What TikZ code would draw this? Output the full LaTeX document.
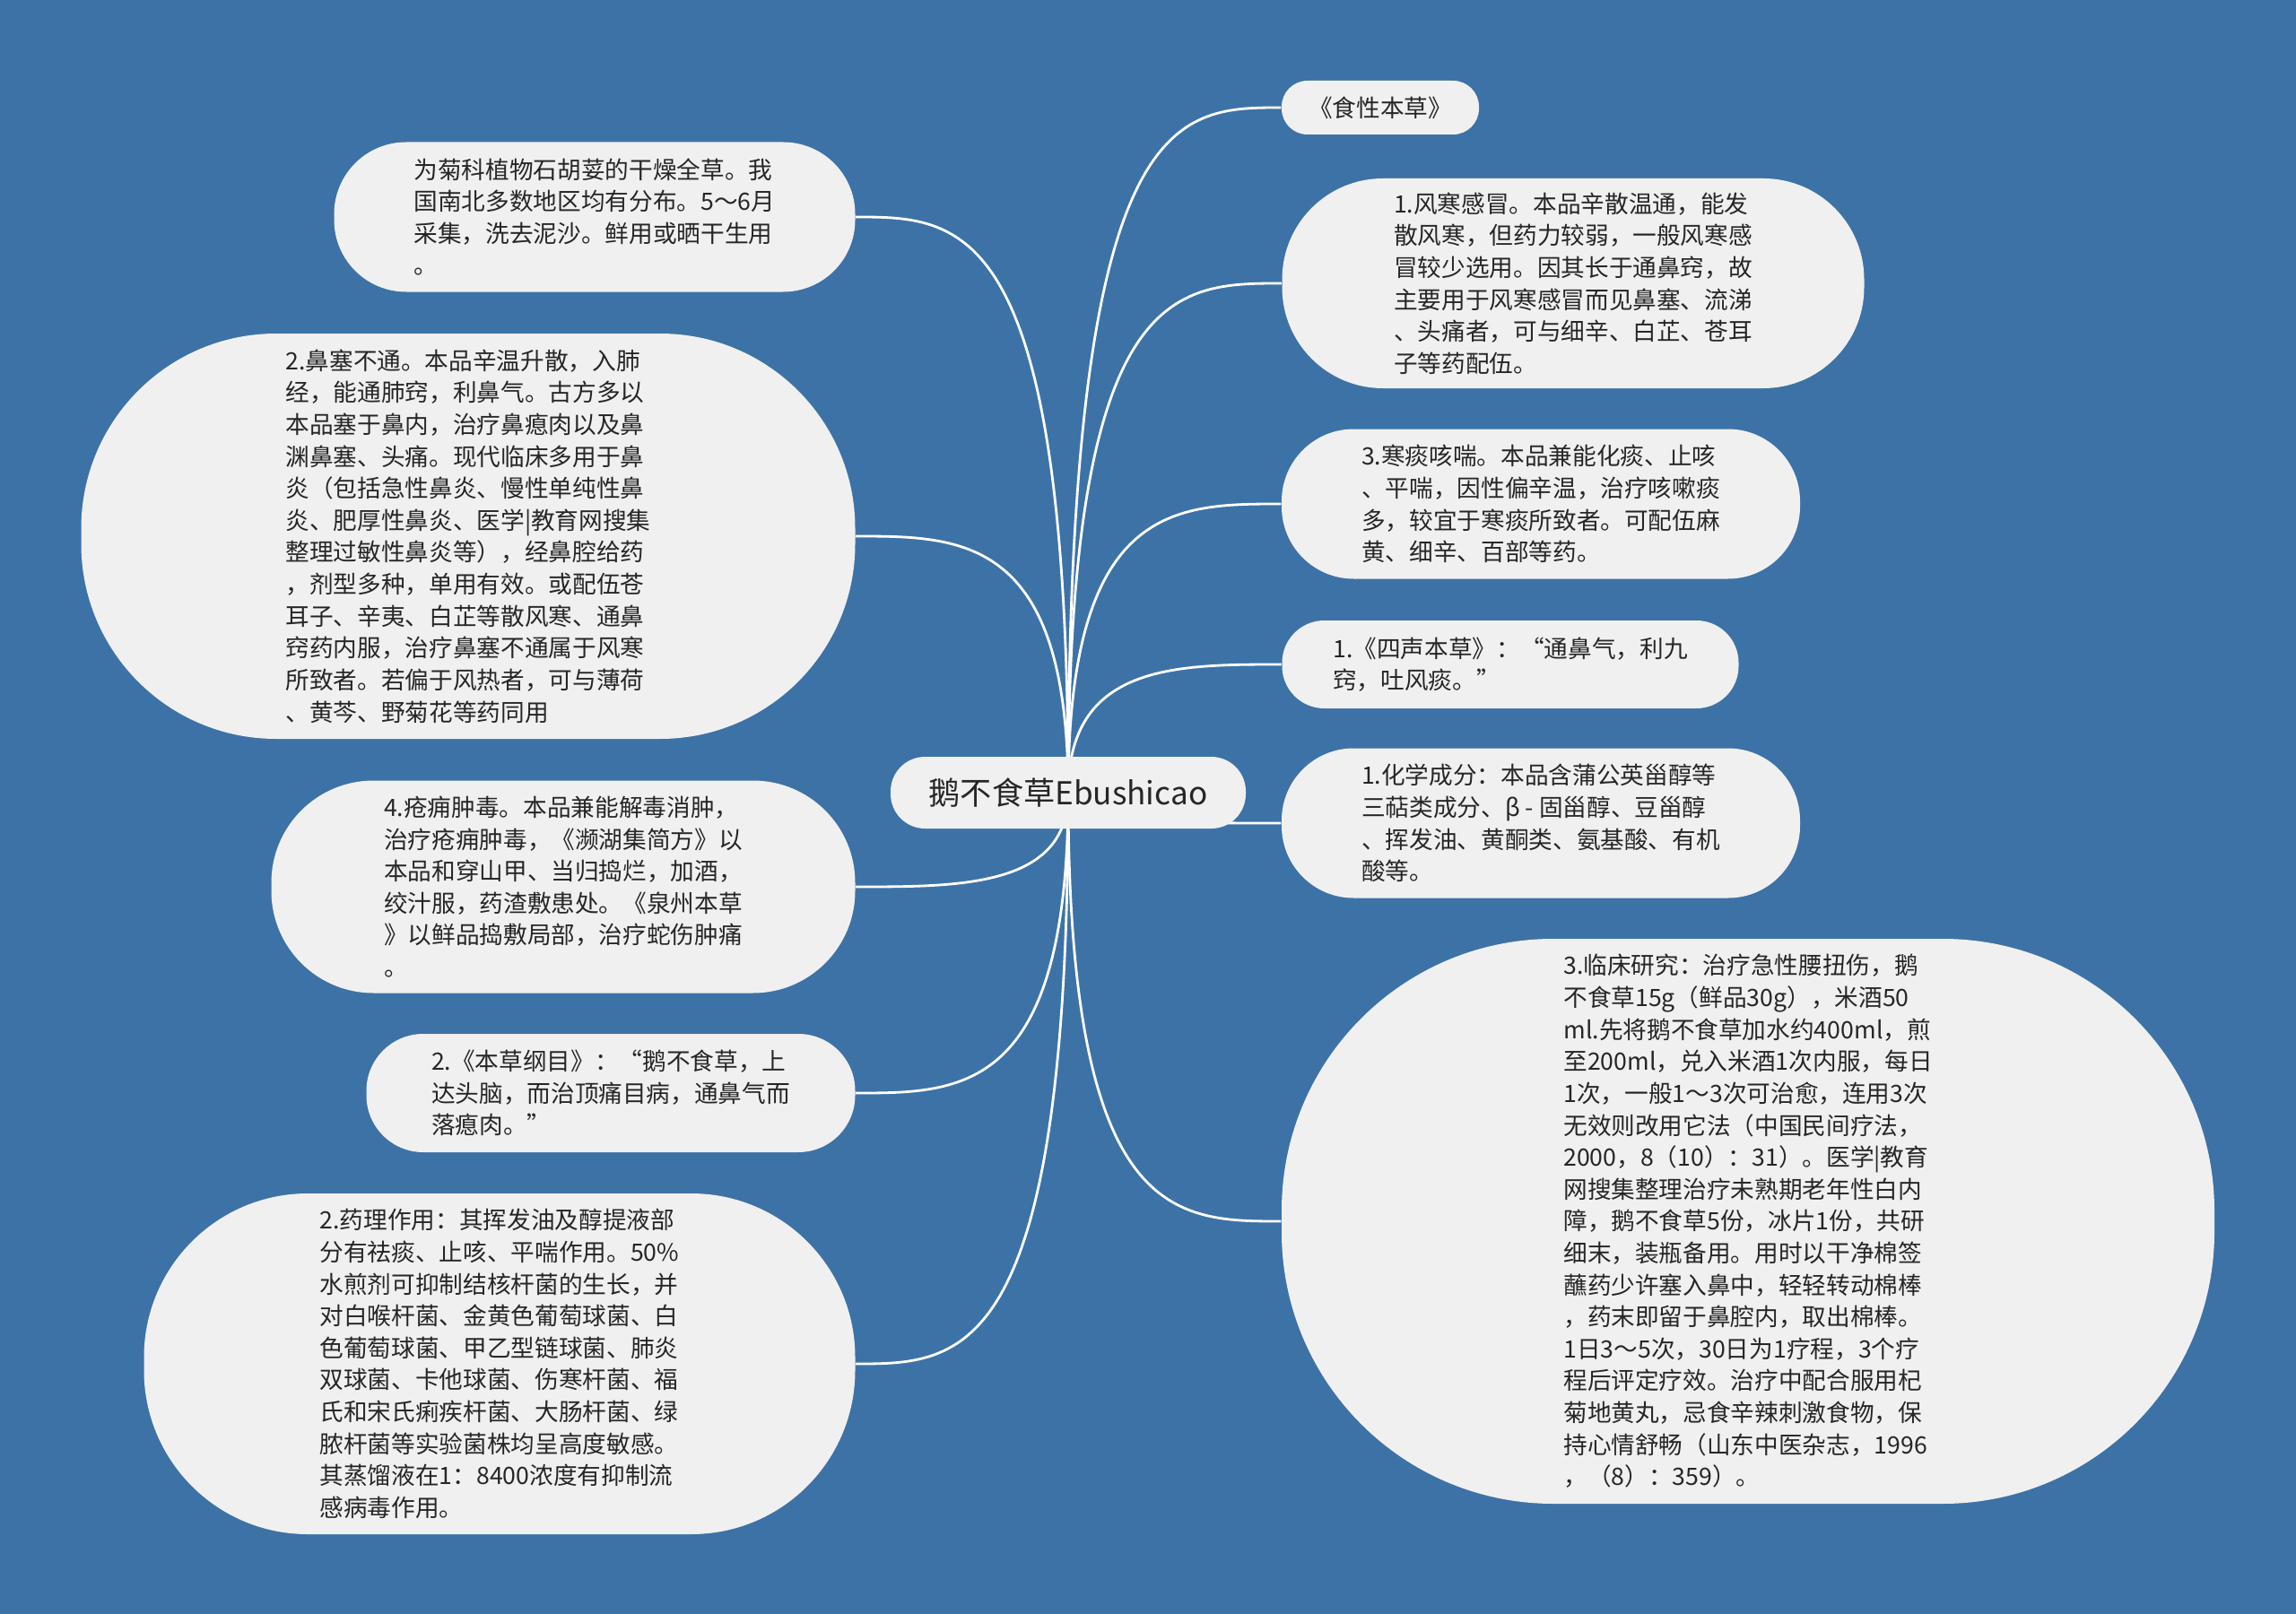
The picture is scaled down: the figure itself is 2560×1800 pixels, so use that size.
\documentclass[tikz,border=0pt]{standalone}
\usepackage{fontspec}
\setmainfont{Noto Sans CJK SC}
\usetikzlibrary{calc}
\definecolor{mapblue}{HTML}{3D72A6}
\definecolor{leafgray}{HTML}{F0F0F0}
\definecolor{inkgray}{HTML}{262626}
\pgfdeclarelayer{back}
\pgfdeclarelayer{links}
\pgfsetlayers{back,links,main}
\begin{document}
\begin{tikzpicture}[x=0.01cm, y=-0.01cm,
    every node/.style={text=inkgray, font=\fontsize{7.58pt}{10.13pt}\selectfont},
    leaf/.style 2 args={fill=leafgray, align=left, inner sep=0pt,
      minimum width=#1*0.01cm, minimum height=#2*0.01cm, rounded corners=#2*0.0048cm},
    branch/.style={draw=white, line width=0.8pt,
      to path={.. controls (\tikztostart |- \tikztotarget) and ($(\tikztostart |- \tikztotarget)!0.5!(\tikztotarget)$) .. (\tikztotarget)}}]
  \useasboundingbox (0,0) rectangle (2560,1800);
  \begin{pgfonlayer}{back}
    \fill[mapblue] (0,0) rectangle (2560,1800);
  \end{pgfonlayer}

  \node[leaf={396}{80}, font=\fontsize{10pt}{12pt}\selectfont] (root) at (1191,884) {鹅不食草Ebushicao};

  \node[leaf={581}{167}] (origin) at (663,242)
    {为菊科植物石胡荽的干燥全草。我\\国南北多数地区均有分布。5～6月\\采集，洗去泥沙。鲜用或晒干生用\\。};
  \node[leaf={863}{452}] (nose) at (522,598)
    {2.鼻塞不通。本品辛温升散，入肺\\经，能通肺窍，利鼻气。古方多以\\本品塞于鼻内，治疗鼻瘜肉以及鼻\\渊鼻塞、头痛。现代临床多用于鼻\\炎（包括急性鼻炎、慢性单纯性鼻\\炎、肥厚性鼻炎、医学|教育网搜集\\整理过敏性鼻炎等），经鼻腔给药\\，剂型多种，单用有效。或配伍苍\\耳子、辛夷、白芷等散风寒、通鼻\\窍药内服，治疗鼻塞不通属于风寒\\所致者。若偏于风热者，可与薄荷\\、黄芩、野菊花等药同用};
  \node[leaf={651}{237}] (sores) at (628,989)
    {4.疮痈肿毒。本品兼能解毒消肿，\\治疗疮痈肿毒，《濒湖集简方》以\\本品和穿山甲、当归捣烂，加酒，\\绞汁服，药渣敷患处。《泉州本草\\》以鲜品捣敷局部，治疗蛇伤肿痛\\。};
  \node[leaf={545}{132}] (gangmu) at (681,1219)
    {2.《本草纲目》：“鹅不食草，上\\达头脑，而治顶痛目病，通鼻气而\\落瘜肉。”};
  \node[leaf={793}{380}] (pharma) at (557,1521)
    {2.药理作用：其挥发油及醇提液部\\分有祛痰、止咳、平喘作用。50\%\\水煎剂可抑制结核杆菌的生长，并\\对白喉杆菌、金黄色葡萄球菌、白\\色葡萄球菌、甲乙型链球菌、肺炎\\双球菌、卡他球菌、伤寒杆菌、福\\氏和宋氏痢疾杆菌、大肠杆菌、绿\\脓杆菌等实验菌株均呈高度敏感。\\其蒸馏液在1：8400浓度有抑制流\\感病毒作用。};

  \node[leaf={220}{60}] (shixing) at (1539,120) {《食性本草》};
  \node[leaf={649}{234}] (cold) at (1754,316)
    {1.风寒感冒。本品辛散温通，能发\\散风寒，但药力较弱，一般风寒感\\冒较少选用。因其长于通鼻窍，故\\主要用于风寒感冒而见鼻塞、流涕\\、头痛者，可与细辛、白芷、苍耳\\子等药配伍。};
  \node[leaf={578}{167}] (cough) at (1718,562)
    {3.寒痰咳喘。本品兼能化痰、止咳\\、平喘，因性偏辛温，治疗咳嗽痰\\多，较宜于寒痰所致者。可配伍麻\\黄、细辛、百部等药。};
  \node[leaf={509}{98}] (sisheng) at (1684,741)
    {1.《四声本草》：“通鼻气，利九\\窍，吐风痰。”};
  \node[leaf={578}{167}] (chem) at (1718,918)
    {1.化学成分：本品含蒲公英甾醇等\\三萜类成分、β - 固甾醇、豆甾醇\\、挥发油、黄酮类、氨基酸、有机\\酸等。};
  \node[leaf={1040}{630}] (clinic) at (1949,1362)
    {3.临床研究：治疗急性腰扭伤，鹅\\不食草15g（鲜品30g），米酒50\\ml.先将鹅不食草加水约400ml，煎\\至200ml，兑入米酒1次内服，每日\\1次，一般1～3次可治愈，连用3次\\无效则改用它法（中国民间疗法，\\2000，8（10）：31）。医学|教育\\网搜集整理治疗未熟期老年性白内\\障，鹅不食草5份，冰片1份，共研\\细末，装瓶备用。用时以干净棉签\\蘸药少许塞入鼻中，轻轻转动棉棒\\，药末即留于鼻腔内，取出棉棒。\\1日3～5次，30日为1疗程，3个疗\\程后评定疗效。治疗中配合服用杞\\菊地黄丸，忌食辛辣刺激食物，保\\持心情舒畅（山东中医杂志，1996\\，（8）：359）。};

  \begin{pgfonlayer}{links}
    \foreach \leafname/\side in {origin/east, nose/east, sores/east, gangmu/east, pharma/east,
        shixing/west, cold/west, cough/west, sisheng/west, chem/west, clinic/west}
      \draw[branch] (root.center) to (\leafname.\side);
  \end{pgfonlayer}
\end{tikzpicture}
\end{document}
